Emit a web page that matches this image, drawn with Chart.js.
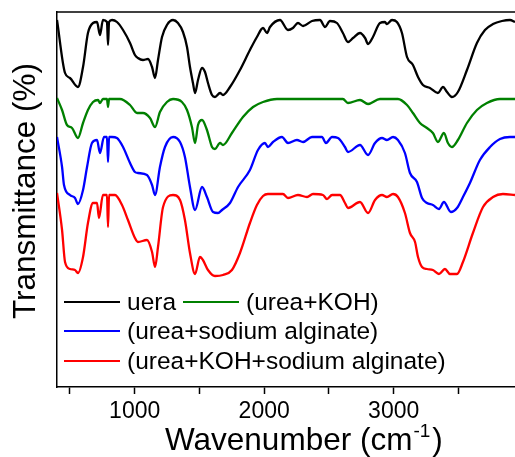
<!DOCTYPE html>
<html>
<head>
<meta charset="utf-8">
<title>FTIR</title>
<script src="https://cdn.jsdelivr.net/npm/chart.js"></script>
<style>
  html, body { margin: 0; padding: 0; background: #fff; }
  canvas { display: block; }
</style>
</head>
<body>
<canvas id="ftir" width="515" height="457"></canvas>
<script>
// 레전드 라벨 (원본 표기 그대로)
const seriesNames = ['uera', '(urea+KOH)', '(urea+sodium alginate)', '(urea+KOH+sodium alginate)'];
const seriesColors = ['#000000', '#008000', '#0000ff', '#ff0000'];

// x 눈금
const majorTicks = [1000, 2000, 3000];
const minorTicks = [500, 1500, 2500, 3500];

// urea (black)
const ureaX = [400, 462, 500, 562, 601, 639, 678, 709, 732, 755, 786, 794, 802, 825, 863, 910, 964, 1002, 1025, 1064, 1103, 1134, 1157, 1180, 1211, 1249, 1296, 1334, 1373, 1404, 1427, 1450, 1466, 1489, 1520, 1543, 1566, 1597, 1620, 1659, 1682, 1736, 1813, 1890, 1944, 1991, 2022, 2045, 2122, 2184, 2222, 2261, 2300, 2369, 2431, 2470, 2508, 2562, 2608, 2647, 2686, 2740, 2779, 2802, 2840, 2894, 2933, 2948, 2987, 3025, 3064, 3103, 3149, 3188, 3226, 3280, 3342, 3381, 3412, 3450, 3496, 3566, 3643, 3705, 3767, 3836, 3898, 3937];
const ureaY = [367, 314, 309, 300, 320, 354, 364, 365, 352, 367, 365, 342, 365, 367, 365, 357, 344, 332, 329, 327, 328, 320, 309, 327, 350, 362, 367, 364, 355, 340, 320, 304, 294, 307, 319, 315, 304, 292, 290, 294, 292, 300, 317, 337, 350, 359, 354, 360, 367, 357, 359, 364, 361, 366, 367, 360, 366, 364, 354, 345, 349, 354, 349, 343, 350, 364, 365, 363, 367, 365, 354, 330, 322, 310, 302, 299, 294, 300, 295, 290, 295, 317, 344, 357, 363, 366, 367, 365];

// urea+KOH (green)
const kohX = [400, 439, 477, 516, 562, 601, 639, 678, 717, 732, 755, 786, 794, 802, 825, 886, 964, 1018, 1064, 1118, 1157, 1195, 1249, 1296, 1365, 1404, 1442, 1466, 1489, 1520, 1558, 1597, 1620, 1659, 1682, 1751, 1836, 1914, 1991, 2099, 2276, 2608, 2647, 2740, 2802, 2894, 3033, 3103, 3149, 3203, 3257, 3303, 3342, 3388, 3419, 3450, 3496, 3566, 3643, 3720, 3821, 3937];
const kohY = [289, 277, 262, 259, 249, 264, 277, 285, 287, 284, 288, 288, 280, 288, 288, 288, 282, 274, 274, 269, 260, 275, 285, 288, 285, 277, 260, 244, 262, 267, 257, 240, 238, 244, 242, 254, 270, 280, 285, 288, 288, 288, 284, 287, 283, 288, 288, 282, 274, 264, 259, 254, 245, 254, 244, 240, 247, 264, 277, 284, 288, 288];

// urea+sodium alginate (blue)
const algX = [400, 439, 454, 500, 539, 562, 601, 632, 670, 709, 732, 763, 786, 794, 802, 825, 863, 910, 964, 1002, 1025, 1095, 1134, 1157, 1195, 1234, 1296, 1350, 1388, 1427, 1466, 1520, 1558, 1605, 1643, 1674, 1736, 1798, 1890, 1952, 2006, 2029, 2068, 2137, 2184, 2253, 2300, 2369, 2446, 2477, 2524, 2570, 2624, 2647, 2740, 2802, 2856, 2910, 2948, 2995, 3033, 3087, 3126, 3180, 3219, 3257, 3303, 3350, 3388, 3442, 3489, 3535, 3589, 3666, 3744, 3821, 3898, 3937];
const algY = [250, 220, 202, 192, 189, 183, 197, 220, 244, 247, 234, 250, 250, 225, 250, 250, 249, 240, 224, 215, 214, 212, 202, 192, 220, 240, 250, 245, 230, 200, 177, 200, 190, 175, 174, 177, 184, 200, 217, 237, 244, 240, 245, 250, 244, 247, 245, 250, 250, 244, 250, 249, 240, 235, 242, 232, 244, 249, 247, 250, 247, 234, 214, 205, 189, 184, 182, 178, 185, 175, 179, 190, 204, 227, 240, 248, 250, 250];

// urea+KOH+sodium alginate (red)
const mixX = [400, 439, 462, 500, 539, 562, 601, 639, 678, 709, 724, 755, 786, 794, 802, 848, 902, 948, 1002, 1025, 1095, 1134, 1157, 1180, 1219, 1296, 1350, 1388, 1427, 1466, 1504, 1527, 1566, 1620, 1682, 1751, 1813, 1890, 1944, 1991, 2029, 2145, 2184, 2261, 2331, 2377, 2454, 2485, 2524, 2585, 2624, 2647, 2740, 2802, 2856, 2910, 2948, 2995, 3033, 3087, 3126, 3165, 3188, 3219, 3257, 3303, 3350, 3396, 3435, 3489, 3535, 3612, 3690, 3767, 3844, 3937];
const mixY = [194, 157, 125, 118, 117, 114, 130, 164, 184, 184, 169, 192, 192, 160, 192, 192, 182, 167, 149, 145, 147, 135, 120, 140, 180, 192, 187, 167, 134, 113, 130, 127, 117, 111, 112, 117, 134, 164, 182, 191, 193, 193, 189, 192, 190, 193, 192, 188, 192, 192, 184, 179, 185, 174, 187, 192, 190, 193, 190, 174, 154, 145, 130, 120, 118, 117, 113, 118, 113, 113, 125, 154, 180, 190, 193, 192];

const seriesX = [ureaX, kohX, algX, mixX];
const seriesY = [ureaY, kohY, algY, mixY];

const FONT = "'Liberation Sans', Arial, sans-serif";

// 틀(위쪽 선), 축 제목, 범례를 직접 그림
const decorPlugin = {
    id: 'decor',
    afterDraw(chart) {
        const ctx = chart.ctx;
        const a = chart.chartArea;
        ctx.save();
        // 위쪽 테두리
        ctx.strokeStyle = '#000';
        ctx.lineWidth = 1.5;
        ctx.beginPath();
        ctx.moveTo(a.left, a.top);
        ctx.lineTo(a.right, a.top);
        ctx.stroke();

        ctx.fillStyle = '#000';
        // x축 제목 (위첨자 -1)
        ctx.textBaseline = 'alphabetic';
        ctx.textAlign = 'left';
        ctx.font = '31.5px ' + FONT;
        let x = 165;
        const base = 450;
        const part1 = 'Wavenumber (cm';
        ctx.fillText(part1, x, base);
        x += ctx.measureText(part1).width;
        ctx.font = '19px ' + FONT;
        ctx.fillText('-1', x + 1, base - 13);
        x += ctx.measureText('-1').width + 3;
        ctx.font = '31.5px ' + FONT;
        ctx.fillText(')', x, base);

        // y축 제목
        ctx.save();
        ctx.translate(35, 191);
        ctx.rotate(-Math.PI / 2);
        ctx.textAlign = 'center';
        ctx.font = '31.5px ' + FONT;
        ctx.fillText('Transmittance (%)', 0, 0);
        ctx.restore();

        // 범례
        const items = [
            { i: 0, x0: 64, y: 302 },
            { i: 1, x0: 183, y: 302 },
            { i: 2, x0: 64, y: 331 },
            { i: 3, x0: 64, y: 361 }
        ];
        ctx.font = '24.5px ' + FONT;
        ctx.textBaseline = 'middle';
        ctx.textAlign = 'left';
        items.forEach(it => {
            const ds = chart.data.datasets[it.i];
            ctx.strokeStyle = ds.borderColor;
            ctx.lineWidth = 2.2;
            ctx.beginPath();
            ctx.moveTo(it.x0, it.y);
            ctx.lineTo(it.x0 + 56, it.y);
            ctx.stroke();
            ctx.fillStyle = '#000';
            ctx.fillText(ds.label, it.x0 + 63, it.y + 1);
        });
        ctx.restore();
    }
};

new Chart(document.getElementById('ftir'), {
    type: 'line',
    data: {
        datasets: seriesNames.map((name, i) => ({
            label: name,
            data: seriesX[i].map((wn, k) => ({ x: wn, y: seriesY[i][k] })),
            borderColor: seriesColors[i],
            borderWidth: 2.3,
            pointRadius: 0,
            tension: 0.2,
            cubicInterpolationMode: 'monotone',
            fill: false
        }))
    },
    options: {
        responsive: false,
        animation: false,
        layout: { padding: { top: 12, right: 0, left: 0, bottom: 0 } },
        plugins: {
            legend: { display: false },
            tooltip: { enabled: false }
        },
        scales: {
            x: {
                type: 'linear',
                min: 400,
                max: 3937,
                afterFit: s => { s.height = 70; },
                afterBuildTicks: s => {
                    s.ticks = minorTicks.concat(majorTicks).sort((a, b) => a - b).map(v => ({ value: v }));
                },
                ticks: {
                    autoSkip: false,
                    maxRotation: 0,
                    padding: 4,
                    color: '#000',
                    font: { family: FONT, size: 23 },
                    callback: v => majorTicks.includes(v) ? String(v) : ''
                },
                grid: {
                    display: true,
                    drawOnChartArea: false,
                    drawTicks: true,
                    tickLength: 7,
                    tickColor: '#000',
                    tickWidth: 1.5
                },
                border: { display: true, color: '#000', width: 1.5 }
            },
            y: {
                type: 'linear',
                min: 0,
                max: 375,
                afterFit: s => { s.width = 57; },
                ticks: { display: false },
                grid: { display: false },
                border: { display: true, color: '#000', width: 1.5 }
            }
        }
    },
    plugins: [decorPlugin]
});
</script>
</body>
</html>
